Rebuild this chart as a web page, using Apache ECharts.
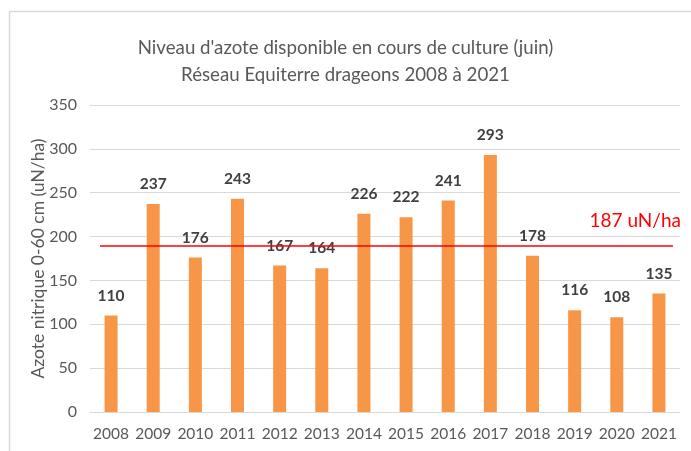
<!DOCTYPE html>
<html>
<head>
<meta charset="utf-8">
<script src="https://cdn.jsdelivr.net/npm/echarts@6/dist/echarts.min.js"></script>
<style>
  html, body { margin: 0; padding: 0; background: #fff; }
  #chart { width: 691px; height: 451px; }
</style>
</head>
<body>
<div id="chart"></div>
<script>
// données
var annees = ['2008','2009','2010','2011','2012','2013','2014','2015','2016','2017','2018','2019','2020','2021'];
var azote = [110, 237, 176, 243, 167, 164, 226, 222, 241, 293, 178, 116, 108, 135];
var moyenne = 189; // position de la ligne rouge
var moyenneTexte = '187 uN/ha';

var chart = echarts.init(document.getElementById('chart'));
var font = 'Lato, "Noto Sans", sans-serif';

chart.setOption({
  animation: false,
  textStyle: { fontFamily: font },
  graphic: [{
    type: 'rect',
    left: 7, top: 9,
    shape: { width: 700, height: 460 },
    style: { fill: 'none', stroke: '#d9d9d9', lineWidth: 1.5 }
  }, {
    type: 'text',
    right: 10, top: 211,
    style: { text: moyenneTexte, fill: '#ff0000', font: '19px ' + font }
  }],
  title: {
    text: "Niveau d'azote disponible en cours de culture (juin)\nRéseau Equiterre drageons 2008 à 2021",
    left: 'center',
    top: 29,
    textStyle: { color: '#595959', fontSize: 18.7, fontWeight: 'normal', lineHeight: 27, fontFamily: font }
  },
  grid: { left: 90, right: 11, top: 105, bottom: 39 },
  xAxis: {
    type: 'category',
    data: annees,
    axisLine: { lineStyle: { color: '#d9d9d9' } },
    axisTick: { show: false },
    axisLabel: { color: '#595959', fontSize: 15.5, margin: 14, interval: 0 }
  },
  yAxis: {
    type: 'value',
    min: 0, max: 350, interval: 50,
    name: 'Azote nitrique 0-60 cm (uN/ha)',
    nameLocation: 'middle',
    nameGap: 43,
    nameMoveOverlap: false,
    nameTextStyle: { color: '#595959', fontSize: 17.5 },
    axisLine: { show: false },
    axisTick: { show: false },
    axisLabel: { color: '#595959', fontSize: 16, margin: 13 },
    splitLine: { lineStyle: { color: '#d9d9d9' } }
  },
  series: [{
    type: 'bar',
    data: azote,
    barWidth: 13,
    itemStyle: { color: '#f79646' },
    label: {
      show: true,
      position: 'top',
      distance: 12,
      color: '#404040',
      fontSize: 15.5,
      fontWeight: 'bold'
    },
    markLine: {
      symbol: 'none',
      silent: true,
      label: { show: false },
      lineStyle: { color: '#ff0000', width: 1.5, type: 'solid' },
      data: [[{ x: 100, yAxis: moyenne }, { x: 673, yAxis: moyenne }]]
    }
  }]
});
</script>
</body>
</html>
